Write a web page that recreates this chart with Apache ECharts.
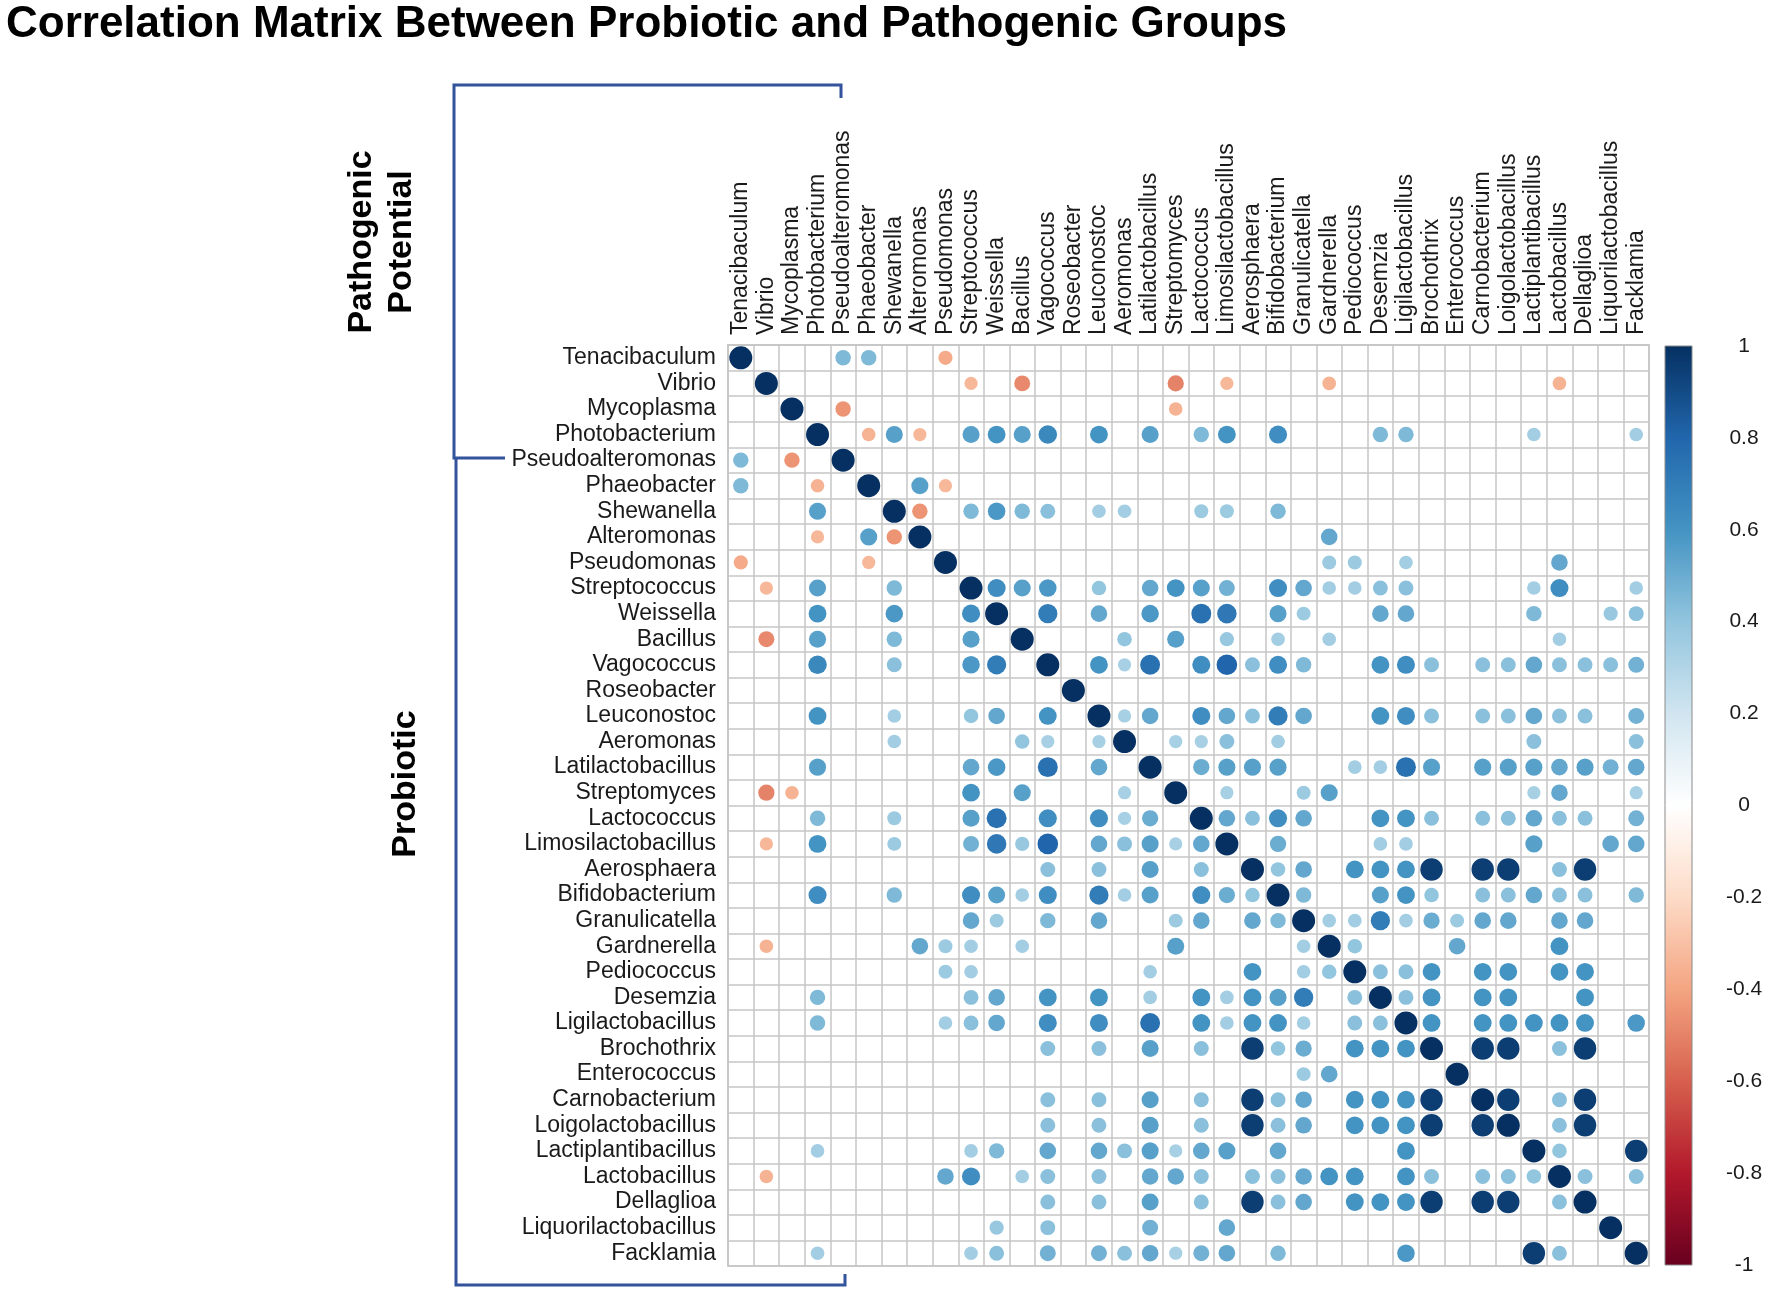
<!DOCTYPE html>
<html><head><meta charset="utf-8">
<script src="https://cdn.jsdelivr.net/npm/echarts@6/dist/echarts.min.js"></script>
<style>html,body{margin:0;padding:0;background:#fff}#chart{width:1772px;height:1294px}</style>
</head><body><div id="chart"></div>
<script>
// ---- categories ----
const taxa = ["Tenacibaculum","Vibrio","Mycoplasma","Photobacterium","Pseudoalteromonas","Phaeobacter","Shewanella","Alteromonas","Pseudomonas","Streptococcus","Weissella","Bacillus","Vagococcus","Roseobacter","Leuconostoc","Aeromonas","Latilactobacillus","Streptomyces","Lactococcus","Limosilactobacillus","Aerosphaera","Bifidobacterium","Granulicatella","Gardnerella","Pediococcus","Desemzia","Ligilactobacillus","Brochothrix","Enterococcus","Carnobacterium","Loigolactobacillus","Lactiplantibacillus","Lactobacillus","Dellaglioa","Liquorilactobacillus","Facklamia"];

// ---- lower-triangle correlations (row i: columns 0..i-1); blank = 0 ----
const lowTenacibaculum = [];
const lowVibrio = [0];
const lowMycoplasma = [0,0];
const lowPhotobacterium = [0,0,0];
const lowPseudoalteromonas = [0.45,0,-0.45,0];
const lowPhaeobacter = [0.45,0,0,-0.35,0];
const lowShewanella = [0,0,0,0.55,0,0];
const lowAlteromonas = [0,0,0,-0.33,0,0.55,-0.45];
const lowPseudomonas = [-0.38,0,0,0,0,-0.33,0,0];
const lowStreptococcus = [0,-0.33,0,0.55,0,0,0.45,0,0];
const lowWeissella = [0,0,0,0.6,0,0,0.58,0,0,0.62];
const lowBacillus = [0,-0.48,0,0.55,0,0,0.45,0,0,0.55,0];
const lowVagococcus = [0,0,0,0.65,0,0,0.42,0,0,0.58,0.7,0];
const lowRoseobacter = [0,0,0,0,0, 0,0,0,0,0, 0,0,0];
const lowLeuconostoc = [0,0,0,0.6,0, 0,0.35,0,0,0.4, 0.52,0,0.6,0];
const lowAeromonas = [0,0,0,0,0, 0,0.35,0,0,0, 0,0.4,0.33,0,0.33];
const lowLatilactobacillus = [0,0,0,0.55,0, 0,0,0,0,0.52, 0.58,0,0.75,0,0.52, 0];
const lowStreptomyces = [0,-0.5,-0.35,0,0, 0,0,0,0,0.6, 0,0.55,0,0,0, 0.33,0];
const lowLactococcus = [0,0,0,0.45,0, 0,0.37,0,0,0.55, 0.75,0,0.62,0,0.62, 0.33,0.5,0];
const lowLimosilactobacillus = [0,-0.33,0,0.6,0, 0,0.37,0,0,0.48, 0.72,0.38,0.8,0,0.52, 0.42,0.55,0.33,0.52];
const lowAerosphaera = [0,0,0,0,0, 0,0,0,0,0, 0,0,0.42,0,0.42, 0,0.55,0,0.42,0];
const lowBifidobacterium = [0,0,0,0.62,0, 0,0.45,0,0,0.62, 0.55,0.35,0.62,0,0.7, 0.35,0.55,0,0.62,0.5, 0.4];
const lowGranulicatella = [0,0,0,0,0, 0,0,0,0,0.52, 0.37,0,0.45,0,0.52, 0,0,0.37,0.52,0, 0.52,0.45];
const lowGardnerella = [0,-0.35,0,0,0, 0,0,0.52,0.37,0.35, 0,0.35,0,0,0, 0,0,0.55,0,0, 0,0,0.35];
const lowPediococcus = [0,0,0,0,0, 0,0,0,0.37,0.35, 0,0,0,0,0, 0,0.35,0,0,0, 0.6,0,0.35,0.4];
const lowDesemzia = [0,0,0,0.45,0, 0,0,0,0,0.42, 0.52,0,0.6,0,0.6, 0,0.35,0,0.6,0.35, 0.6,0.55,0.7,0,0.42];
const lowLigilactobacillus = [0,0,0,0.45,0, 0,0,0,0.35,0.42, 0.52,0,0.62,0,0.62, 0,0.75,0,0.6,0.35, 0.6,0.6,0.35,0,0.42, 0.42];
const lowBrochothrix = [0,0,0,0,0, 0,0,0,0,0, 0,0,0.42,0,0.42, 0,0.55,0,0.42,0, 0.95,0.4,0.5,0,0.6, 0.6,0.6];
const lowEnterococcus = [0,0,0,0,0, 0,0,0,0,0, 0,0,0,0,0, 0,0,0,0,0, 0,0,0.37,0.52,0, 0,0,0];
const lowCarnobacterium = [0,0,0,0,0, 0,0,0,0,0, 0,0,0.42,0,0.42, 0,0.55,0,0.42,0, 0.95,0.42,0.52,0,0.6, 0.6,0.6,0.95,0];
const lowLoigolactobacillus = [0,0,0,0,0, 0,0,0,0,0, 0,0,0.42,0,0.42, 0,0.55,0,0.42,0, 0.95,0.42,0.52,0,0.6, 0.6,0.6,0.95,0,0.95];
const lowLactiplantibacillus = [0,0,0,0.35,0, 0,0,0,0,0.35, 0.45,0,0.52,0,0.52, 0.42,0.55,0.33,0.52,0.55, 0,0.52,0,0,0, 0,0.6,0,0,0, 0];
const lowLactobacillus = [0,-0.35,0,0,0, 0,0,0,0.52,0.62, 0,0.35,0.42,0,0.42, 0,0.52,0.52,0.42,0, 0.42,0.42,0.52,0.6,0.6, 0,0.6,0.42,0,0.42, 0.42,0.4];
const lowDellaglioa = [0,0,0,0,0, 0,0,0,0,0, 0,0,0.42,0,0.42, 0,0.55,0,0.42,0, 0.95,0.42,0.52,0,0.6, 0.6,0.6,0.95,0,0.95, 0.95,0,0.42];
const lowLiquorilactobacillus = [0,0,0,0,0, 0,0,0,0,0, 0.38,0,0.42,0,0, 0,0.48,0,0,0.52, 0,0,0,0,0, 0,0,0,0,0, 0,0,0,0];
const lowFacklamia = [0,0,0,0.35,0, 0,0,0,0,0.35, 0.42,0,0.48,0,0.48, 0.42,0.52,0.33,0.48,0.52, 0,0.45,0,0,0, 0,0.58,0,0,0, 0,0.95,0.42,0,0];

// ---- colour bar ----
const colorbarTicks = [-1,-0.8,-0.6,-0.4,-0.2,0,0.2,0.4,0.6,0.8,1];
const rdbu = ["#67001F","#B2182B","#D6604D","#F4A582","#FDDBC7","#FFFFFF","#D1E5F0","#92C5DE","#4393C3","#2166AC","#053061"];

const lowerRows = [lowTenacibaculum,lowVibrio,lowMycoplasma,lowPhotobacterium,lowPseudoalteromonas,lowPhaeobacter,lowShewanella,lowAlteromonas,lowPseudomonas,lowStreptococcus,lowWeissella,lowBacillus,lowVagococcus,lowRoseobacter,lowLeuconostoc,lowAeromonas,lowLatilactobacillus,lowStreptomyces,lowLactococcus,lowLimosilactobacillus,lowAerosphaera,lowBifidobacterium,lowGranulicatella,lowGardnerella,lowPediococcus,lowDesemzia,lowLigilactobacillus,lowBrochothrix,lowEnterococcus,lowCarnobacterium,lowLoigolactobacillus,lowLactiplantibacillus,lowLactobacillus,lowDellaglioa,lowLiquorilactobacillus,lowFacklamia];

function corr(i, j) {
  if (i === j) return 1;
  return i > j ? lowerRows[i][j] : lowerRows[j][i];
}
const points = [];
for (let i = 0; i < taxa.length; i++) {
  for (let j = 0; j < taxa.length; j++) {
    const v = corr(i, j);
    if (v) points.push([j, i, v]);
  }
}

const FONT = 'Liberation Sans, Arial, sans-serif';
const GRID_COLOR = '#c6c6c6';
const BLUE = '#33539c';

const chart = echarts.init(document.getElementById('chart'), null, {renderer: 'canvas'});
const stops = rdbu.map((c, k) => ({offset: 1 - k / (rdbu.length - 1), color: c}));

chart.setOption({
  backgroundColor: '#ffffff',
  animation: false,
  grid: [
    {left: 728, top: 345, width: 921, height: 921, show: true, borderColor: GRID_COLOR, borderWidth: 1.5, backgroundColor: 'transparent'},
    {left: 1665, top: 346, width: 27, height: 919}
  ],
  xAxis: [
    {type: 'category', gridIndex: 0, data: taxa, position: 'top', boundaryGap: true,
     axisLine: {show: true, lineStyle: {color: GRID_COLOR, width: 1.5}}, axisTick: {show: false},
     axisLabel: {rotate: -90, interval: 0, margin: 10, fontSize: 23, color: '#1a1a1a', fontFamily: FONT},
     splitLine: {show: true, interval: 0, lineStyle: {color: GRID_COLOR, width: 1.5}}},
    {type: 'value', gridIndex: 1, min: 0, max: 1, show: false}
  ],
  yAxis: [
    {type: 'category', gridIndex: 0, data: taxa, inverse: true, boundaryGap: true,
     axisLine: {show: true, lineStyle: {color: GRID_COLOR, width: 1.5}}, axisTick: {show: false},
     axisLabel: {interval: 0, margin: 12, fontSize: 23, color: '#1a1a1a', fontFamily: FONT},
     splitLine: {show: true, interval: 0, lineStyle: {color: GRID_COLOR, width: 1.5}}},
    {type: 'value', gridIndex: 1, min: -1, max: 1, interval: 0.2, position: 'right',
     axisLine: {show: false}, axisTick: {show: false}, splitLine: {show: false},
     axisLabel: {margin: 52, align: 'center', fontSize: 21, color: '#1a1a1a', fontFamily: FONT,
       formatter: v => String(+v.toFixed(1))}}
  ],
  visualMap: {show: false, type: 'continuous', min: -1, max: 1, dimension: 2, seriesIndex: 0,
    inRange: {color: rdbu}},
  series: [
    {type: 'scatter', xAxisIndex: 0, yAxisIndex: 0, data: points, symbol: 'circle',
     symbolSize: d => 23 * Math.sqrt(Math.abs(d[2])), itemStyle: {opacity: 1}},
    {type: 'custom', xAxisIndex: 1, yAxisIndex: 1, data: [[0, 0]], silent: true,
     renderItem: (params, api) => {
       const a = api.coord([0, 1]);
       const b = api.coord([1, -1]);
       return {type: 'rect', shape: {x: a[0], y: a[1], width: b[0] - a[0], height: b[1] - a[1]},
         style: {fill: new echarts.graphic.LinearGradient(0, 0, 0, 1, stops), stroke: '#8a8a8a', lineWidth: 1}};
     }}
  ],
  graphic: [
    {type: 'text', x: 6, y: 25, style: {text: 'Correlation Matrix Between Probiotic and Pathogenic Groups',
      font: 'bold 44px ' + FONT, fill: '#000', textVerticalAlign: 'middle', textAlign: 'left'}},
    {type: 'polyline', shape: {points: [[841, 98], [841, 85], [454, 85], [454, 458], [505, 458]]},
      style: {stroke: BLUE, lineWidth: 3, fill: null}},
    {type: 'polyline', shape: {points: [[456, 458], [456, 1285], [845, 1285], [845, 1274]]},
      style: {stroke: BLUE, lineWidth: 3, fill: null}},
    {type: 'text', x: 382, y: 242, rotation: Math.PI / 2, style: {text: 'Pathogenic\nPotential',
      font: 'bold 34px ' + FONT, lineHeight: 40, fill: '#000', textAlign: 'center', textVerticalAlign: 'middle'}},
    {type: 'text', x: 406, y: 784, rotation: Math.PI / 2, style: {text: 'Probiotic',
      font: 'bold 34px ' + FONT, fill: '#000', textAlign: 'center', textVerticalAlign: 'middle'}}
  ]
});
</script>
</body></html>
